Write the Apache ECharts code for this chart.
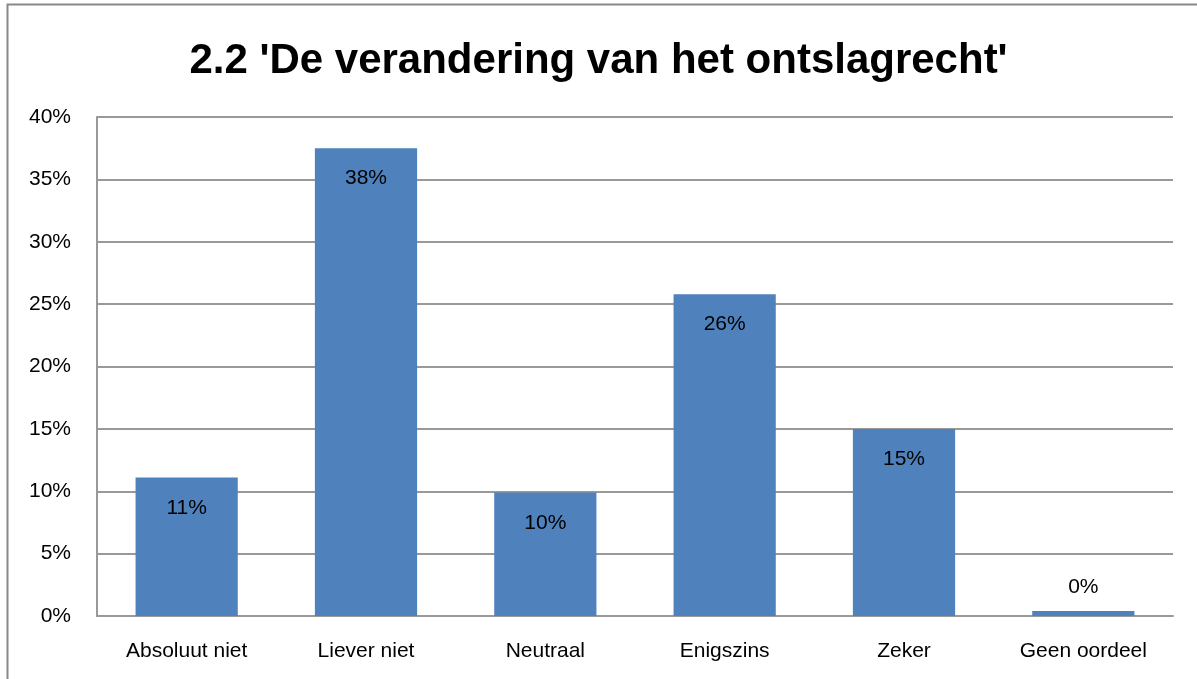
<!DOCTYPE html>
<html>
<head>
<meta charset="utf-8">
<script src="https://cdn.jsdelivr.net/npm/echarts@6/dist/echarts.min.js"></script>
<style>
    html, body { margin: 0; padding: 0; background: #fff; }
    #chart { width: 1197px; height: 679px; }
</style>
</head>
<body>
<div id="chart"></div>
<script>
const categories = ['Absoluut niet', 'Liever niet', 'Neutraal', 'Enigszins', 'Zeker', 'Geen oordeel'];
const values = [11.1, 37.5, 9.9, 25.8, 15.0, 0.4];
const yTicks = [0, 5, 10, 15, 20, 25, 30, 35, 40];

const font = '"Liberation Sans", "Open Sans", sans-serif';
let myChart = echarts.init(document.getElementById('chart'));
let option = {
    backgroundColor: '#fff',
    animation: false,
    title: {
        text: "2.2 'De verandering van het ontslagrecht'",
        left: 'center',
        top: 35,
        textStyle: { fontFamily: font, fontSize: 42, fontWeight: 'bold', color: '#000' }
    },
    graphic: [{
        type: 'rect',
        shape: { x: 7.5, y: 4.5, width: 1300, height: 800 },
        style: { fill: 'none', stroke: '#888', lineWidth: 2 },
        silent: true
    }],
    grid: { left: 97, right: 24, top: 117, bottom: 63 },
    xAxis: {
        type: 'category',
        data: categories,
        axisTick: { show: false },
        axisLine: { lineStyle: { color: '#999', width: 2 } },
        axisLabel: { fontFamily: font, fontSize: 21, color: '#000', margin: 25, interval: 0 }
    },
    yAxis: {
        type: 'value',
        min: yTicks[0],
        max: yTicks[yTicks.length - 1],
        interval: 5,
        axisLine: { show: true, lineStyle: { color: '#999', width: 2 } },
        axisTick: { show: false },
        splitLine: { lineStyle: { color: '#999', width: 2 } },
        axisLabel: { fontFamily: font, fontSize: 21, color: '#000', margin: 26, formatter: '{value}%' }
    },
    series: [{
        type: 'bar',
        data: values.map(function (v) {
            return {
                value: v,
                label: v < 2 ? { position: 'top', distance: 13 } : { position: 'insideTop', distance: 20 }
            };
        }),
        barWidth: '57%',
        itemStyle: { color: '#4F81BD' },
        label: {
            show: true,
            fontFamily: font,
            fontSize: 21,
            color: '#000',
            formatter: function (p) { return Math.round(p.value) + '%'; }
        }
    }]
};
option && myChart.setOption(option);
</script>
</body>
</html>
